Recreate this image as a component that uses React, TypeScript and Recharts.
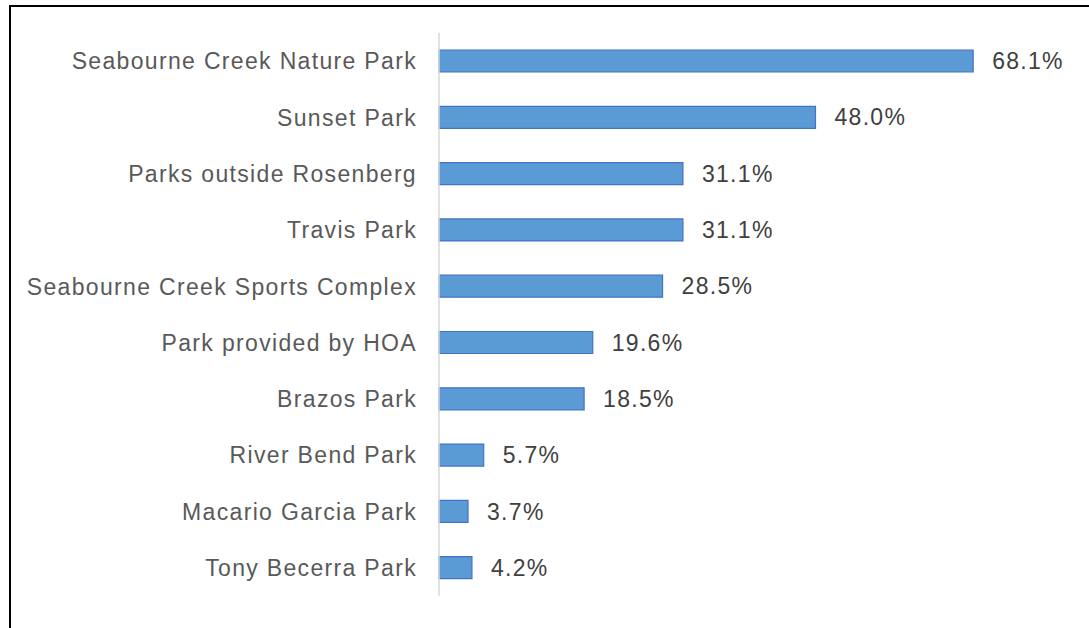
import React from 'react';
import { BarChart, Bar, XAxis, YAxis, LabelList } from 'recharts';

const parks = [
  'Seabourne Creek Nature Park',
  'Sunset Park',
  'Parks outside Rosenberg',
  'Travis Park',
  'Seabourne Creek Sports Complex',
  'Park provided by HOA',
  'Brazos Park',
  'River Bend Park',
  'Macario Garcia Park',
  'Tony Becerra Park',
];
const shares = [68.1, 48.0, 31.1, 31.1, 28.5, 19.6, 18.5, 5.7, 3.7, 4.2];

const data = parks.map((name, i) => ({ name, value: shares[i] }));

const FONT = '"Liberation Sans", Arial, sans-serif';

export default function App() {
  return (
    <div style={{ position: 'absolute', left: 0, top: 0, width: 1089, height: 628, background: '#fff', overflow: 'hidden' }}>
      <div
        style={{
          position: 'absolute',
          left: 9,
          top: 5,
          width: 1100,
          height: 640,
          borderTop: '2.5px solid #000',
          borderLeft: '2.5px solid #000',
          boxSizing: 'border-box',
        }}
      />
      <div style={{ position: 'absolute', left: 0, top: 0 }}>
        <BarChart
          width={1089}
          height={628}
          layout="vertical"
          data={data}
          margin={{ top: 33, right: 22.5, bottom: 32, left: 0 }}
          barSize={22}
        >
          <XAxis type="number" domain={[0, 80]} hide />
          <YAxis
            type="category"
            dataKey="name"
            width={439}
            axisLine={{ stroke: '#d9d9d9', strokeWidth: 1.5 }}
            tickLine={false}
            tickMargin={16}
            interval={0}
            tick={{ fill: '#595959', fontSize: 23, fontFamily: FONT, letterSpacing: 1.33 }}
          />
          <Bar dataKey="value" fill="#5B9BD5" stroke="#4472C4" strokeWidth={1.2} isAnimationActive={false}>
            <LabelList
              dataKey="value"
              position="right"
              offset={19}
              formatter={(v: number) => `${v.toFixed(1)}%`}
              style={{ fill: '#404040', fontSize: 23, fontFamily: FONT, letterSpacing: 1.3 }}
            />
          </Bar>
        </BarChart>
      </div>
    </div>
  );
}
